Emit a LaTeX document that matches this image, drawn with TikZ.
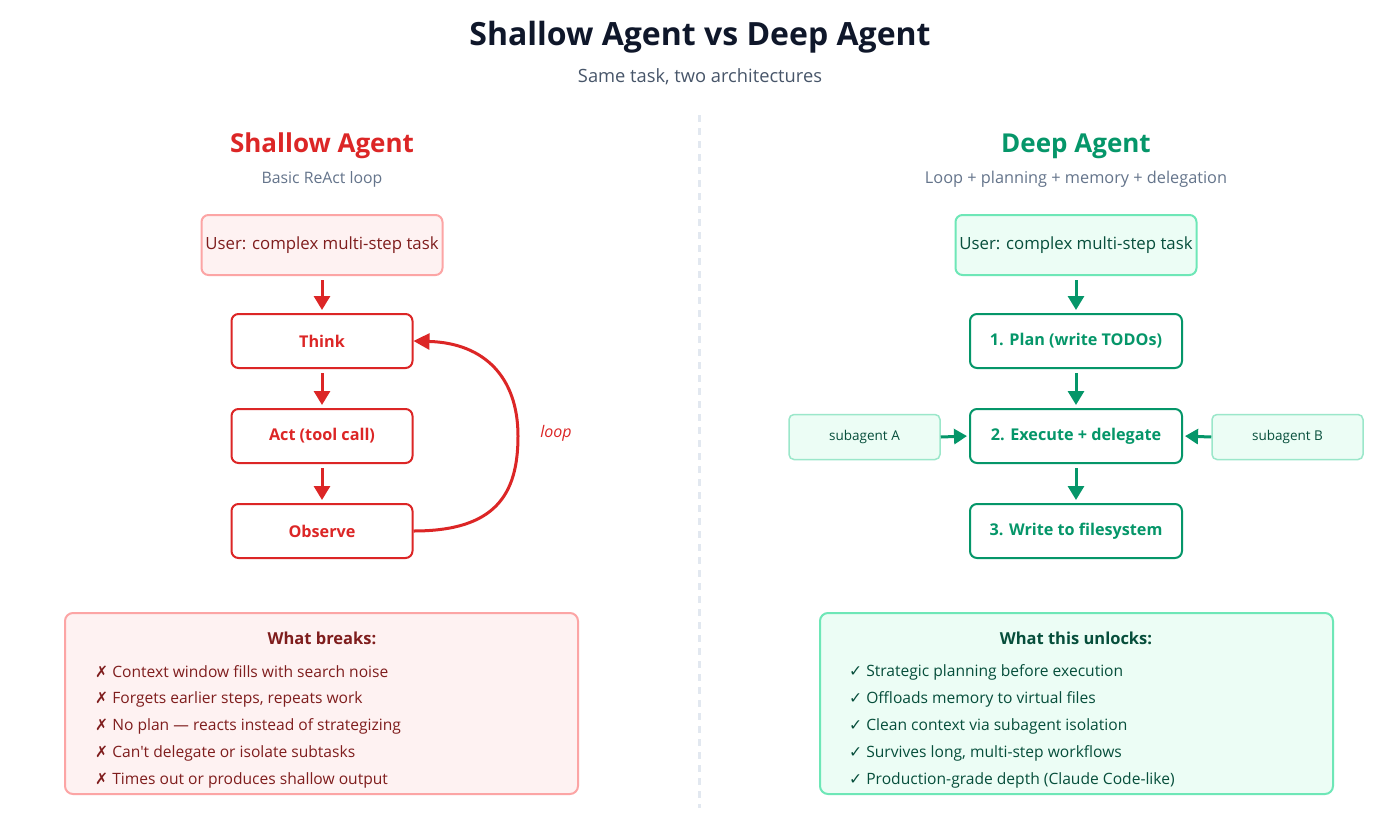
\documentclass[tikz,border=0pt]{standalone}
\usepackage{fontspec}
\defaultfontfeatures{}
\setmainfont{Open Sans}[Ligatures=TeXOff]
\newfontfamily\symf{DejaVu Sans}
\usetikzlibrary{arrows.meta}
\definecolor{cTitle}{HTML}{0F172A}
\definecolor{cSub}{HTML}{475569}
\definecolor{cSub2}{HTML}{64748B}
\definecolor{cRed}{HTML}{DC2626}
\definecolor{cRedFill}{HTML}{FEF2F2}
\definecolor{cRedBorder}{HTML}{FCA5A5}
\definecolor{cRedDark}{HTML}{7F1D1D}
\definecolor{cGreen}{HTML}{059669}
\definecolor{cGreenFill}{HTML}{ECFDF5}
\definecolor{cGreenBorder}{HTML}{6EE7B7}
\definecolor{cGreenDark}{HTML}{064E3B}
\definecolor{cDiv}{HTML}{E2E8F0}
\begin{document}
\begin{tikzpicture}[x=1pt,y=-1pt,
  fs/.style={font=\fontsize{#1}{#1}\selectfont},
  userbox/.style={rectangle, rounded corners=7pt, line width=2pt, minimum width=241pt, minimum height=60pt, inner sep=0pt, fs=16.8},
  stepbox/.style={rectangle, rounded corners=7pt, line width=2pt, fill=white, minimum height=54pt, inner sep=0pt, font=\bfseries\fontsize{16.2}{16.2}\selectfont},
  subbox/.style={rectangle, rounded corners=5pt, line width=1.5pt, draw=cGreenBorder!80!cGreen!60, fill=cGreenFill, minimum width=151pt, minimum height=45pt, inner sep=0pt, text=cGreenDark, fs=13.5},
  panel/.style={rectangle, rounded corners=8pt, line width=2pt, minimum width=513pt, minimum height=181pt, inner sep=0pt},
  redarr/.style={draw=cRed, line width=3pt, -{Triangle[length=14pt,width=16pt]}},
  grnarr/.style={draw=cGreen, line width=3pt, -{Triangle[length=14pt,width=16pt]}},
  item/.style={anchor=west, inner sep=0pt, fs=15.6}
]
\path[fill=white] (0,0) rectangle (1400,833);
\useasboundingbox (0,0) rectangle (1400,833);

% titles
\node[text=cTitle, font=\bfseries\fontsize{32}{32}\selectfont] (title) at (700,37) {Shallow Agent vs Deep Agent};
\node[text=cSub, fs=18.3] (subtitle) at (700,77) {Same task, two architectures};

% divider
\coordinate (dtop) at (699,115);
\coordinate (dbot) at (699,808);
\draw[cDiv, line width=3pt, dash pattern=on 7pt off 6pt] (dtop) -- (dbot);

% left header
\node[text=cRed, font=\bfseries\fontsize{26}{26}\selectfont] (lhead) at (322,146) {Shallow Agent};
\node[text=cSub2, fs=15.8] (lsub) at (322,179) {Basic ReAct loop};

% left flow
\node[userbox, draw=cRedBorder, fill=cRedFill, text=cRedDark] (luser) at (322,245) {User: complex multi-step task};
\node[stepbox, draw=cRed, text=cRed, minimum width=181pt] (think) at (322,341) {Think};
\node[stepbox, draw=cRed, text=cRed, minimum width=181pt] (act) at (322,436) {Act (tool call)};
\node[stepbox, draw=cRed, text=cRed, minimum width=181pt] (obs) at (322,531) {Observe};
\draw[redarr, shorten <=4pt, shorten >=3pt] (luser) -- (think);
\draw[redarr, shorten <=4pt, shorten >=3pt] (think) -- (act);
\draw[redarr, shorten <=4pt, shorten >=3pt] (act) -- (obs);
\draw[draw=cRed, line width=3pt, -{Triangle[length=16pt,width=16pt]}] (obs.east) .. controls (495,531) and (518,495) .. (518,436) .. controls (518,378) and (485,343) .. (think.east);
\node[text=cRed, font=\itshape\fontsize{16}{16}\selectfont] (looplbl) at (556,433) {loop};

% right header
\node[text=cGreen, font=\bfseries\fontsize{26}{26}\selectfont] (rhead) at (1076,146) {Deep Agent};
\node[text=cSub2, fs=16.3] (rsub) at (1076,179) {Loop + planning + memory + delegation};

% right flow
\node[userbox, draw=cGreenBorder, fill=cGreenFill, text=cGreenDark] (ruser) at (1076,245) {User: complex multi-step task};
\node[stepbox, draw=cGreen, text=cGreen, minimum width=212pt] (plan) at (1076,341) {1. Plan (write TODOs)};
\node[stepbox, draw=cGreen, text=cGreen, minimum width=212pt] (exec) at (1076,436) {2. Execute + delegate};
\node[stepbox, draw=cGreen, text=cGreen, minimum width=212pt] (write) at (1076,531) {3. Write to filesystem};
\node[subbox] (suba) at (864.5,437) {subagent A};
\node[subbox] (subb) at (1287.5,437) {subagent B};
\draw[grnarr, shorten <=4pt, shorten >=3pt] (ruser) -- (plan);
\draw[grnarr, shorten <=4pt, shorten >=3pt] (plan) -- (exec);
\draw[grnarr, shorten <=4pt, shorten >=3pt] (exec) -- (write);
\draw[draw=cGreen, line width=3pt, -{Triangle[length=13pt,width=15pt]}, shorten >=2pt] (suba.east) -- (exec.west);
\draw[draw=cGreen, line width=3pt, -{Triangle[length=13pt,width=15pt]}, shorten >=2pt] (subb.west) -- (exec.east);

% bottom left panel
\node[panel, draw=cRedBorder, fill=cRedFill] (lpanel) at (321.5,703.5) {};
\node[text=cRedDark, font=\bfseries\fontsize{16.5}{16.5}\selectfont] (lptitle) at (322,638) {What breaks:};
\begin{scope}[every node/.append style={text=cRedDark}]
\node[item] (l1) at (95,672) {{\symf ✗} Context window fills with search noise};
\node[item] (l2) at (95,699) {{\symf ✗} Forgets earlier steps, repeats work};
\node[item] (l3) at (95,726) {{\symf ✗} No plan — reacts instead of strategizing};
\node[item] (l4) at (95,753) {{\symf ✗} Can't delegate or isolate subtasks};
\node[item] (l5) at (95,780) {{\symf ✗} Times out or produces shallow output};
\end{scope}

% bottom right panel
\node[panel, draw=cGreenBorder, fill=cGreenFill] (rpanel) at (1076.5,703.5) {};
\node[text=cGreenDark, font=\bfseries\fontsize{16.5}{16.5}\selectfont] (rptitle) at (1076,638) {What this unlocks:};
\begin{scope}[every node/.append style={text=cGreenDark}]
\node[item] (r1) at (849,672) {{\symf ✓} Strategic planning before execution};
\node[item] (r2) at (849,699) {{\symf ✓} Offloads memory to virtual files};
\node[item] (r3) at (849,726) {{\symf ✓} Clean context via subagent isolation};
\node[item] (r4) at (849,753) {{\symf ✓} Survives long, multi-step workflows};
\node[item] (r5) at (849,780) {{\symf ✓} Production-grade depth (Claude Code-like)};
\end{scope}
\end{tikzpicture}
\end{document}
